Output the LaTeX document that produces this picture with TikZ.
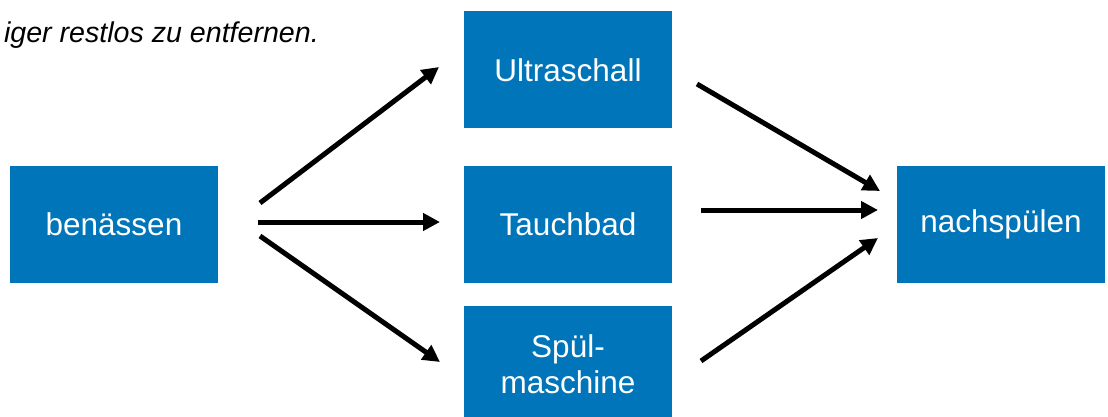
\documentclass[tikz,border=0pt]{standalone}
\usepackage{fontspec}
\setmainfont{Liberation Sans}
\usetikzlibrary{arrows.meta}
\definecolor{boxblue}{HTML}{0075BA}
\begin{document}
\begin{tikzpicture}[x=1pt,y=-1pt,
  stepbox/.style={rectangle,fill=boxblue,text=white,minimum width=208pt,minimum height=117pt,inner sep=0pt,align=center,font=\fontsize{31.5}{36}\selectfont},
  flow/.style={line width=5pt,-{Triangle[length=17pt,width=17pt]}}]
\useasboundingbox (0,0) rectangle (1108,417);
\clip (0,0) rectangle (1108,417);
\node[anchor=base east,inner sep=0pt,font=\fontsize{28.6}{33}\selectfont\itshape] (cap) at (319,43) {iger restlos zu entfernen.};
\node[stepbox] (ben) at (114,224.5) {benässen};
\node[stepbox] (ultra) at (568,70) {Ultraschall};
\node[stepbox] (tauch) at (568,224.5) {Tauchbad};
\node[stepbox] (spuel) at (568,364.5) {Spül-\\maschine};
\node[stepbox] (nach) at (1001,224.5) {nachspülen};
\coordinate (a1s) at (260,203); \coordinate (a1e) at (439,67);
\coordinate (a2s) at (258,222); \coordinate (a2e) at (440,222);
\coordinate (a3s) at (260,236); \coordinate (a3e) at (440,362);
\coordinate (a4s) at (697,84); \coordinate (a4e) at (880,191);
\coordinate (a5s) at (701,210); \coordinate (a5e) at (878,210);
\coordinate (a6s) at (701,361); \coordinate (a6e) at (878,238);
\draw[flow] (a1s) -- (a1e);
\draw[flow] (a2s) -- (a2e);
\draw[flow] (a3s) -- (a3e);
\draw[flow] (a4s) -- (a4e);
\draw[flow] (a5s) -- (a5e);
\draw[flow] (a6s) -- (a6e);
\end{tikzpicture}
\end{document}
